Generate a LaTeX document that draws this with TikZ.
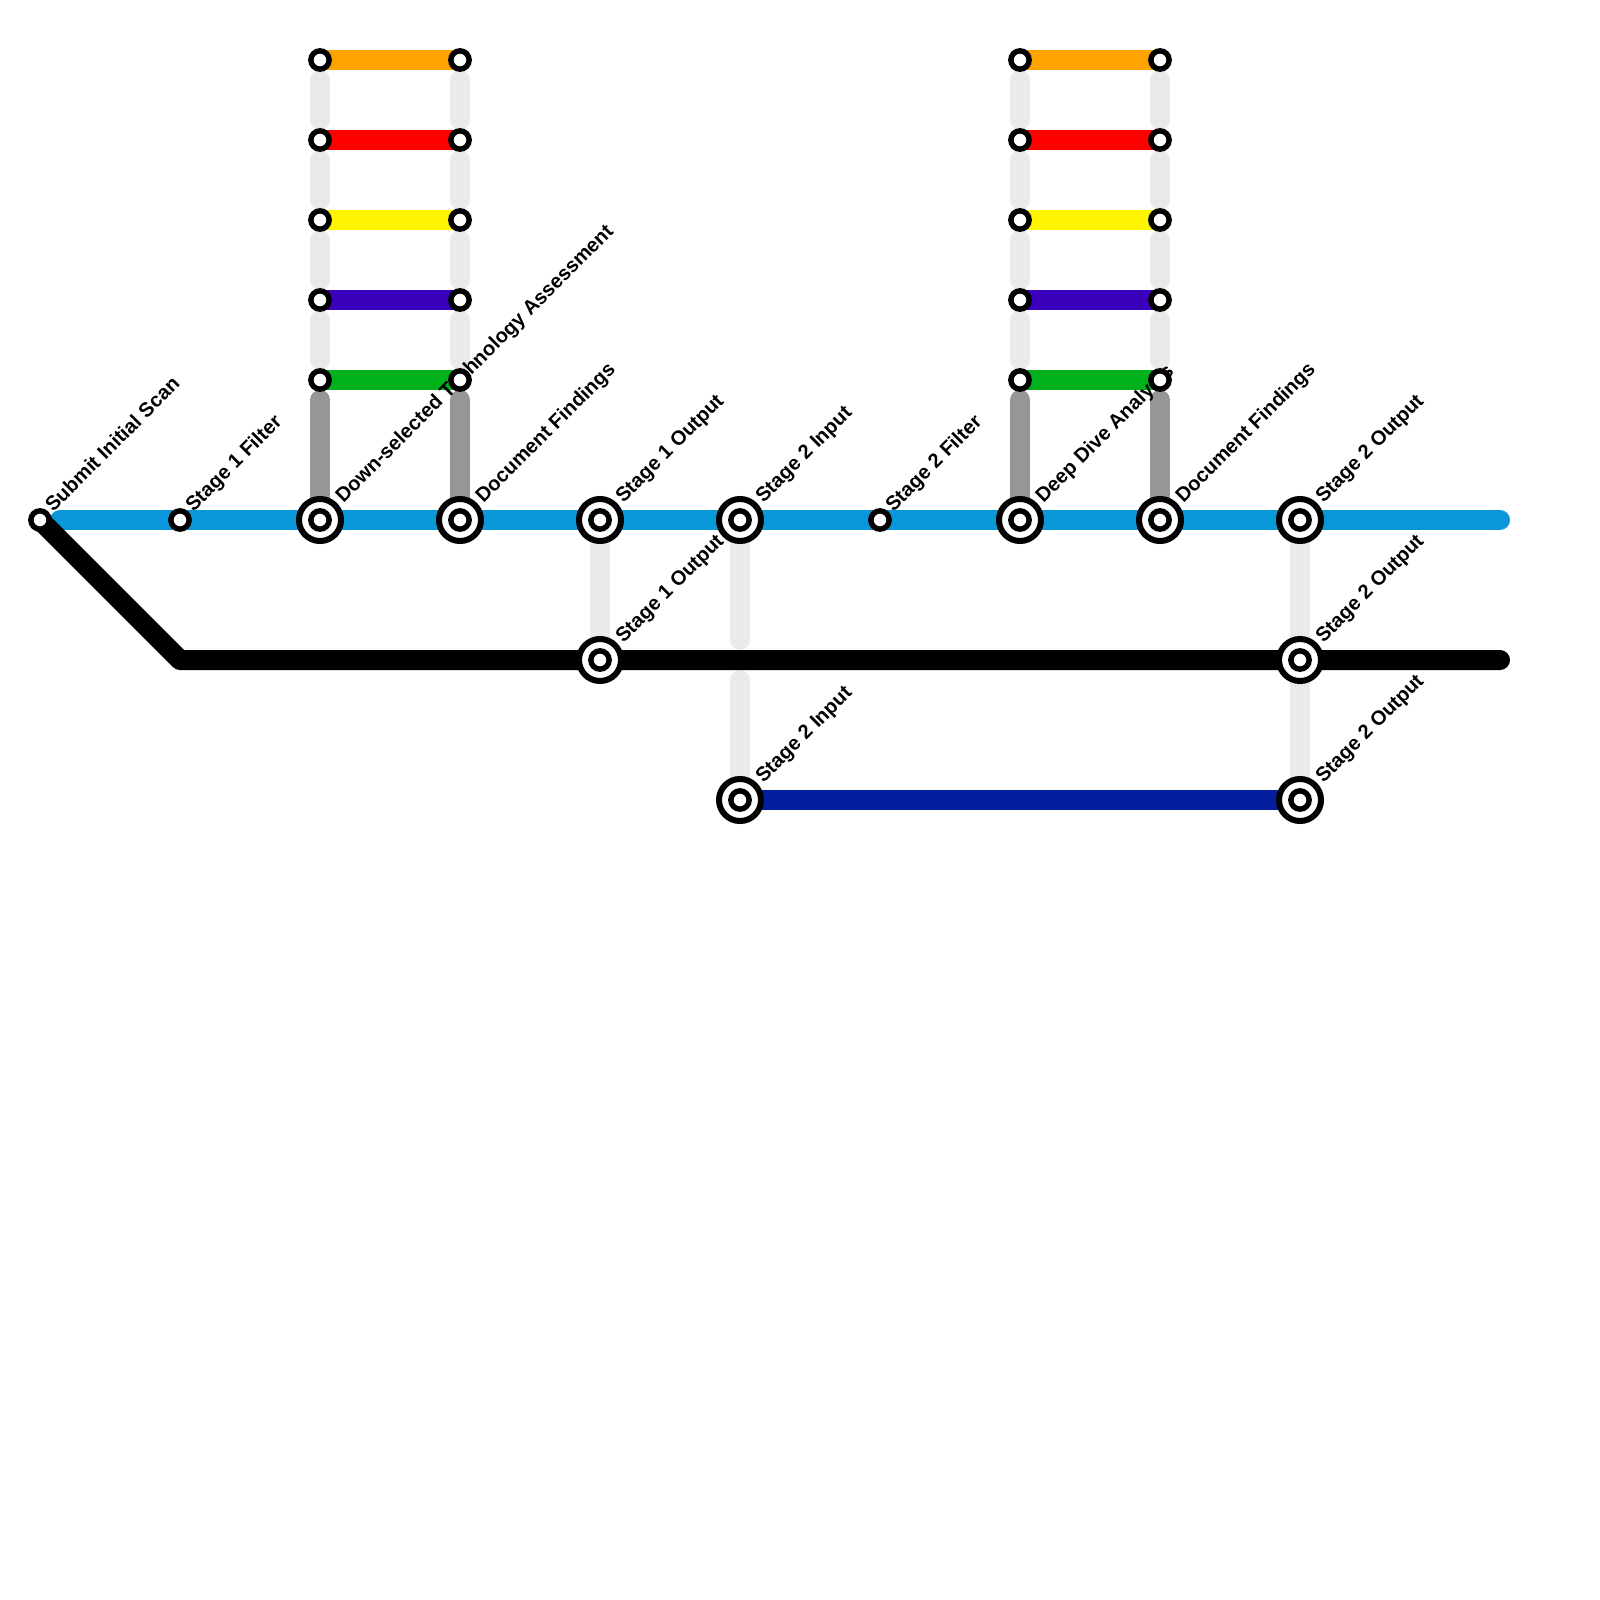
\documentclass[tikz,border=0pt]{standalone}
\usepackage{fontspec}
\setmainfont{Liberation Sans}
\usetikzlibrary{positioning}
\definecolor{railblue}{HTML}{0A97D9}
\definecolor{railorange}{HTML}{FFA300}
\definecolor{railyellow}{HTML}{FFF500}
\definecolor{railpurple}{HTML}{3A00BB}
\definecolor{railgreen}{HTML}{00B11B}
\definecolor{railnavy}{HTML}{041F9E}
\definecolor{raildark}{HTML}{969696}
\definecolor{raillight}{HTML}{EAEAEA}
\pgfdeclarelayer{lines}
\pgfdeclarelayer{names}
\pgfsetlayers{lines,names,main}

\begin{document}
\begin{tikzpicture}[
    x=0.01cm, y=-0.01cm,
    stop/.style={
        circle, draw=black, line width=1.55pt,
        fill=white, inner sep=0pt, minimum size=5.2pt,
    },
    hub/.style={
        circle, draw=black, line width=1.71pt,
        fill=white, inner sep=0pt, minimum size=11.95pt,
        label={[stop, label distance=0pt]center:},
    },
    rail/.style={
        line width=5.69pt,
    },
    blank/.style={
        rail, raillight, line cap=round,
        shorten <=5.69pt, shorten >=5.69pt,
    },
    feed/.style={
        rail, raildark, line cap=round,
        shorten <=5.69pt,
    },
    stopname/.style={
        rotate=45, anchor=base west, inner sep=0pt,
        font=\fontsize{5.72pt}{6pt}\selectfont\bfseries,
    },
]
\useasboundingbox (0,0) rectangle (1600,1600);

% main line stations
\node[stop] (scan) at (40, 520) {};
\node[stop] (filtA) at (180, 520) {};
\node[hub] (downsel) at (320, 520) {};
\node[hub] (docA) at (460, 520) {};
\node[hub] (outA) at (600, 520) {};
\node[hub] (inB) at (740, 520) {};
\node[stop] (filtB) at (880, 520) {};
\node[hub] (deep) at (1020, 520) {};
\node[hub] (docB) at (1160, 520) {};
\node[hub] (outB) at (1300, 520) {};

% lower stations
\node[hub] (outAlow) at (600, 660) {};
\node[hub] (outBlow) at (1300, 660) {};
\node[hub] (inBnavy) at (740, 800) {};
\node[hub] (outBnavy) at (1300, 800) {};

% first ladder
\node[stop] (aorange) at (320, 60) {};
\node[stop] (ared) at (320, 140) {};
\node[stop] (ayellow) at (320, 220) {};
\node[stop] (apurple) at (320, 300) {};
\node[stop] (agreen) at (320, 380) {};
\node[stop] (borange) at (460, 60) {};
\node[stop] (bred) at (460, 140) {};
\node[stop] (byellow) at (460, 220) {};
\node[stop] (bpurple) at (460, 300) {};
\node[stop] (bgreen) at (460, 380) {};

% second ladder
\node[stop] (corange) at (1020, 60) {};
\node[stop] (cred) at (1020, 140) {};
\node[stop] (cyellow) at (1020, 220) {};
\node[stop] (cpurple) at (1020, 300) {};
\node[stop] (cgreen) at (1020, 380) {};
\node[stop] (dorange) at (1160, 60) {};
\node[stop] (dred) at (1160, 140) {};
\node[stop] (dyellow) at (1160, 220) {};
\node[stop] (dpurple) at (1160, 300) {};
\node[stop] (dgreen) at (1160, 380) {};

% free ends of the lines
\coordinate (blueend) at (1500, 520);
\coordinate (blackend) at (1500, 660);
\coordinate (bend) at (180, 660);
\coordinate (cross) at (740, 660);

\begin{pgfonlayer}{lines}
% light links
\draw[blank] (aorange.center) -- (ared.center);
\draw[blank] (ared.center) -- (ayellow.center);
\draw[blank] (ayellow.center) -- (apurple.center);
\draw[blank] (apurple.center) -- (agreen.center);
\draw[blank] (borange.center) -- (bred.center);
\draw[blank] (bred.center) -- (byellow.center);
\draw[blank] (byellow.center) -- (bpurple.center);
\draw[blank] (bpurple.center) -- (bgreen.center);
\draw[blank] (corange.center) -- (cred.center);
\draw[blank] (cred.center) -- (cyellow.center);
\draw[blank] (cyellow.center) -- (cpurple.center);
\draw[blank] (cpurple.center) -- (cgreen.center);
\draw[blank] (dorange.center) -- (dred.center);
\draw[blank] (dred.center) -- (dyellow.center);
\draw[blank] (dyellow.center) -- (dpurple.center);
\draw[blank] (dpurple.center) -- (dgreen.center);
\draw[blank] (outA.center) -- (outAlow.center);
\draw[blank] (inB.center) -- (cross);
\draw[blank] (cross) -- (inBnavy.center);
\draw[blank] (outB.center) -- (outBlow.center);
\draw[blank] (outBlow.center) -- (outBnavy.center);

% grey feeders
\draw[feed] (agreen.center) -- (downsel.center);
\draw[feed] (bgreen.center) -- (docA.center);
\draw[feed] (cgreen.center) -- (deep.center);
\draw[feed] (dgreen.center) -- (docB.center);

% coloured rungs
\draw[rail, railorange] (aorange.center) -- (borange.center);
\draw[rail, red] (ared.center) -- (bred.center);
\draw[rail, railyellow] (ayellow.center) -- (byellow.center);
\draw[rail, railpurple] (apurple.center) -- (bpurple.center);
\draw[rail, railgreen] (agreen.center) -- (bgreen.center);
\draw[rail, railorange] (corange.center) -- (dorange.center);
\draw[rail, red] (cred.center) -- (dred.center);
\draw[rail, railyellow] (cyellow.center) -- (dyellow.center);
\draw[rail, railpurple] (cpurple.center) -- (dpurple.center);
\draw[rail, railgreen] (cgreen.center) -- (dgreen.center);

% long lines
\draw[rail, railnavy] (inBnavy.center) -- (outBnavy.center);
\draw[rail, railblue, line cap=round, shorten <=5.69pt] (scan.center) -- (blueend);
\draw[rail, black, line cap=round, line join=round] (scan.center) -- (bend) -- (blackend);
\end{pgfonlayer}

\begin{pgfonlayer}{names}
\node[stopname] (lscan) at ([shift={(13,-7)}]scan.center) {Submit Initial Scan};
\node[stopname] (lfiltA) at ([shift={(13,-7)}]filtA.center) {Stage 1 Filter};
\node[stopname] (ldownsel) at ([shift={(23,-16)}]downsel.center) {Down-selected Technology Assessment};
\node[stopname] (ldocA) at ([shift={(23,-16)}]docA.center) {Document Findings};
\node[stopname] (loutA) at ([shift={(23,-16)}]outA.center) {Stage 1 Output};
\node[stopname] (linB) at ([shift={(23,-16)}]inB.center) {Stage 2 Input};
\node[stopname] (lfiltB) at ([shift={(13,-7)}]filtB.center) {Stage 2 Filter};
\node[stopname] (ldeep) at ([shift={(23,-16)}]deep.center) {Deep Dive Analysis};
\node[stopname] (ldocB) at ([shift={(23,-16)}]docB.center) {Document Findings};
\node[stopname] (loutB) at ([shift={(23,-16)}]outB.center) {Stage 2 Output};
\node[stopname] (loutAlow) at ([shift={(23,-16)}]outAlow.center) {Stage 1 Output};
\node[stopname] (loutBlow) at ([shift={(23,-16)}]outBlow.center) {Stage 2 Output};
\node[stopname] (linBnavy) at ([shift={(23,-16)}]inBnavy.center) {Stage 2 Input};
\node[stopname] (loutBnavy) at ([shift={(23,-16)}]outBnavy.center) {Stage 2 Output};
\end{pgfonlayer}

\end{tikzpicture}
\end{document}
